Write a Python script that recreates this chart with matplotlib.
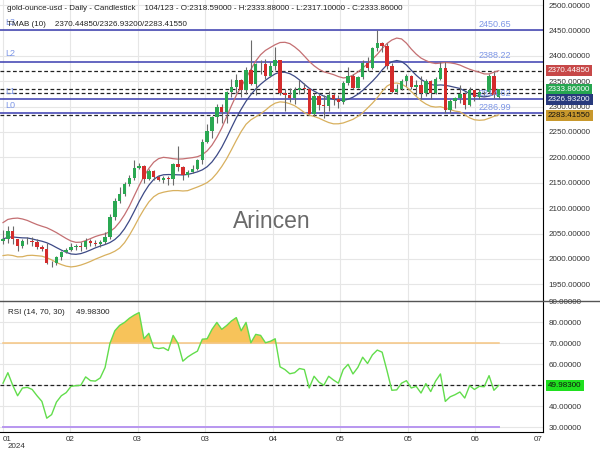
import numpy as np
import pandas as pd
import matplotlib.pyplot as plt
from matplotlib.lines import Line2D

plt.rcParams['font.family'] = ['Liberation Sans', 'DejaVu Sans']

# daily gold candles (31 Jan .. 24 Jun 2024)
opens = [2036, 2039, 2054, 2039, 2025, 2035, 2035, 2034, 2024, 2020,
         1992, 1992, 2004, 2013, 2018, 2024, 2025, 2024, 2036, 2031,
         2030, 2034, 2044, 2083, 2115, 2128, 2148, 2159, 2179, 2182,
         2158, 2174, 2162, 2156, 2160, 2157, 2186, 2181, 2165, 2172,
         2178, 2194, 2230, 2251, 2280, 2300, 2290, 2329, 2339, 2352,
         2333, 2373, 2344, 2383, 2383, 2361, 2379, 2391, 2327, 2322,
         2316, 2332, 2337, 2335, 2286, 2320, 2303, 2301, 2323, 2314,
         2309, 2346, 2360, 2336, 2358, 2386, 2376, 2415, 2425, 2420,
         2379, 2329, 2334, 2350, 2361, 2338, 2342, 2327, 2350, 2327,
         2355, 2376, 2294, 2311, 2316, 2324, 2303, 2333, 2319, 2329,
         2328, 2360, 2318.59]
highs = [2056, 2065, 2065, 2040, 2040, 2043, 2044, 2040, 2028, 2032,
         1996, 2006, 2016, 2022, 2032, 2030, 2034, 2041, 2040, 2037,
         2037, 2052, 2088, 2119, 2141, 2152, 2165, 2195, 2189, 2184,
         2177, 2175, 2166, 2163, 2163, 2189, 2222, 2183, 2176, 2184,
         2196, 2236, 2265, 2281, 2305, 2305, 2330, 2354, 2365, 2354,
         2378, 2431, 2385, 2392, 2393, 2387, 2417, 2392, 2334, 2336,
         2338, 2353, 2347, 2336, 2326, 2325, 2323, 2331, 2327, 2323,
         2351, 2378, 2364, 2360, 2392, 2397, 2418, 2450, 2427, 2426,
         2385, 2344, 2355, 2364, 2363, 2352, 2360, 2354, 2353, 2359,
         2388, 2387, 2315, 2318, 2343, 2328, 2338, 2333, 2334, 2331,
         2365, 2368, 2333.88]
lows = [2030, 2031, 2030, 2015, 2022, 2029, 2025, 2020, 2016, 1990,
        1984, 1988, 1998, 2012, 2015, 2018, 2015, 2020, 2026, 2025,
        2024, 2029, 2039, 2077, 2111, 2124, 2143, 2155, 2177, 2150,
        2156, 2155, 2154, 2150, 2146, 2146, 2174, 2156, 2162, 2170,
        2175, 2186, 2228, 2238, 2268, 2267, 2267, 2319, 2326, 2319,
        2325, 2343, 2323, 2364, 2354, 2358, 2373, 2322, 2291, 2310,
        2306, 2325, 2326, 2285, 2282, 2293, 2277, 2292, 2304, 2298,
        2305, 2343, 2334, 2336, 2355, 2370, 2374, 2410, 2407, 2374,
        2326, 2325, 2332, 2341, 2334, 2322, 2315, 2320, 2315, 2325,
        2353, 2287, 2288, 2297, 2308, 2296, 2301, 2311, 2314, 2321,
        2326, 2316, 2317.10]
closes = [2039, 2054, 2039, 2025, 2035, 2035, 2034, 2024, 2020, 1992,
          1992, 2004, 2013, 2018, 2024, 2025, 2024, 2036, 2031, 2030,
          2034, 2044, 2083, 2115, 2128, 2148, 2159, 2179, 2182, 2158,
          2174, 2162, 2156, 2160, 2157, 2186, 2181, 2165, 2172, 2178,
          2194, 2230, 2251, 2280, 2300, 2290, 2329, 2339, 2352, 2333,
          2373, 2344, 2383, 2383, 2361, 2379, 2391, 2327, 2322, 2316,
          2332, 2337, 2335, 2286, 2320, 2303, 2301, 2323, 2314, 2309,
          2346, 2360, 2336, 2358, 2386, 2376, 2415, 2425, 2420, 2379,
          2329, 2334, 2350, 2361, 2338, 2342, 2327, 2350, 2327, 2355,
          2376, 2294, 2311, 2316, 2324, 2303, 2333, 2319, 2329, 2328,
          2360, 2322, 2333.86]

# RSI(14)
rsi = [51, 56, 50, 45, 48.7, 49, 48, 45, 42.3, 34.3,
       36, 42, 45, 46.5, 49.5, 49.8, 50, 54, 52.2, 52,
       53.5, 58.5, 70, 76, 78.6, 80, 82, 83.5, 84.7, 72.2,
       74.8, 68, 67.5, 67.9, 66.6, 73.8, 70, 61.5, 63.5, 65,
       66.3, 72, 72.2, 76.7, 80, 76.7, 78.5, 80.7, 82.3, 76,
       80, 70.3, 74.3, 73.8, 70.3, 71, 72.2, 58.8, 57.5, 55.5,
       56, 58, 57.5, 48.7, 54.3, 51.5, 50, 54.3, 52.5, 51,
       57.5, 60, 55.4, 58.5, 63.4, 60.4, 64.5, 66.8, 65.8, 57,
       47.6, 47.8, 51, 52.2, 48.7, 49.5, 46.3, 50.8, 47, 52,
       55.4, 42.3, 44.5, 45.5, 46.8, 43.9, 49.8, 48, 49.5, 49.3,
       54.6, 47.6, 49.983]

level_names = ['L0', 'L1', 'L2', 'L3']
level_values = [2286.99, 2314.62, 2388.22, 2450.65]
tmab_last = [2370.44850, 2326.93200, 2283.41550]
last_close = 2333.86
month_labels = ['01', '02', '03', '03', '04', '05', '05', '06', '07']

o = np.array(opens); h = np.array(highs); l = np.array(lows); c = np.array(closes)
x = np.arange(len(c))

# TMA bands (10)
cs = pd.Series(c)
mid = cs.rolling(6, min_periods=1).mean().rolling(5, min_periods=1).mean()
prev = cs.shift(1).fillna(cs.iloc[0])
tr = np.maximum(h - l, np.maximum((h - prev).abs(), (l - prev).abs()))
atr = pd.Series(tr).rolling(12, min_periods=1).mean().rolling(3, min_periods=1).mean()
k = (tmab_last[0] - tmab_last[1]) / atr.iloc[-1]
upper = mid + k * atr
lower = mid - k * atr

fig = plt.figure(figsize=(6, 4.5), dpi=100)
ax = fig.add_axes([0, 1 - 300 / 450, 543 / 600, 300 / 450])
ax2 = fig.add_axes([0, 1 - 432 / 450, 543 / 600, 132 / 450], sharex=ax)

grid_c = '#e6e6e6'
ticks_x = np.arange(9) * 13.9 - 0.1
for a in (ax, ax2):
    a.set_xlim(-0.62, 111.1)
    for t in ticks_x:
        a.axvline(t, color=grid_c, lw=0.8, zorder=0)
    a.yaxis.tick_right()
    a.tick_params(axis='y', length=0, pad=4, labelsize=5.8, labelcolor='#333333')
    a.spines['left'].set_visible(False)
    a.spines['right'].set_color('black')

# price panel
ax.set_ylim(1919, 2510)
price_ticks = np.arange(1950, 2501, 50)
ax.set_yticks(price_ticks)
ax.set_yticklabels([f'{v:.5f}' for v in price_ticks])
for v in price_ticks:
    ax.axhline(v, color=grid_c, lw=0.8, zorder=0)
ax.spines['top'].set_visible(False)
ax.spines['bottom'].set_visible(False)
ax.tick_params(axis='x', bottom=False, labelbottom=False)

ax.text(0.5, 1 - 222 / 300, 'Arincen', transform=ax.transAxes, ha='center',
        va='center', fontsize=16.5, color='#6a6a6a', zorder=1)

for v in tmab_last + [last_close]:
    ax.axhline(v, color='#222222', lw=0.9, ls=(0, (3, 2)), zorder=1)
for name, v in zip(level_names, level_values):
    ax.axhline(v, color='#3a3db0', lw=1.1, zorder=1)
    ax.annotate(name, xy=(0, v), xycoords=('axes fraction', 'data'), xytext=(5, 8),
                textcoords='offset pixels', fontsize=6.5, color='#7d96e6', va='center')
    ax.annotate(f'{v:.2f}', xy=(479 / 543, v), xycoords=('axes fraction', 'data'),
                xytext=(0, 6), textcoords='offset pixels', fontsize=6.5,
                color='#7d96e6', va='center', ha='left', zorder=5)

ax.plot(x, upper, color='#c46f72', lw=0.9, zorder=2)
ax.plot(x, mid, color='#3d4a86', lw=0.9, zorder=2)
ax.plot(x, lower, color='#d8b05e', lw=0.9, zorder=2)

up = c >= o
colors = np.where(up, '#2aa852', '#d42c2c')
ax.vlines(x, l, h, color='#6a6a6a', lw=0.8, zorder=3)
ax.bar(x, np.maximum(np.abs(c - o), 0.8), bottom=np.minimum(o, c), width=0.7,
       color=colors, linewidth=0, zorder=4)

# value tags on the price scale
tags = [(tmab_last[0], 0, '#c74848', 'white'),
        (last_close, 0, '#26a650', 'white'),
        (tmab_last[1], -7, '#283a7c', 'white'),
        (tmab_last[2], 0, '#c8982c', '#111111')]
for v, dy, bg, fg in tags:
    ax.annotate(f'{v:.5f}', xy=(1, v), xycoords=('axes fraction', 'data'),
                xytext=(5, dy), textcoords='offset pixels', fontsize=5.8, color=fg,
                va='center', ha='left', annotation_clip=False, zorder=10,
                bbox=dict(boxstyle='square,pad=0.25', fc=bg, ec='none'))

# RSI panel
ax2.set_ylim(27.7, 90.7)
rsi_ticks = np.arange(30, 91, 10)
ax2.set_yticks(rsi_ticks)
ax2.set_yticklabels([f'{v:.5f}' for v in rsi_ticks])
for v in rsi_ticks:
    ax2.axhline(v, color=grid_c, lw=0.8, zorder=0)
r = np.array(rsi)
ax2.plot(x, np.full(len(x), 70), color='#f6c682', lw=1.1, zorder=2)
ax2.plot(x, np.full(len(x), 30), color='#b896f0', lw=1.4, zorder=2)
ax2.axhline(50, color='#222222', lw=0.9, ls=(0, (3, 2)), zorder=2)
ax2.fill_between(x, 70, r, where=r > 70, interpolate=True, color='#f7c35a', lw=0, zorder=1)
ax2.plot(x, r, color='#62dd4c', lw=1.0, zorder=3)
ax2.annotate(f'{rsi[-1]:.5f}', xy=(1, rsi[-1]), xycoords=('axes fraction', 'data'),
             xytext=(5, 0), textcoords='offset pixels', fontsize=5.8, color='#111111',
             va='center', ha='left', annotation_clip=False, zorder=10,
             bbox=dict(boxstyle='square,pad=0.25', fc='#1fe01f', ec='none'))
ax2.spines['top'].set_visible(False)
ax2.spines['bottom'].set_color('black')
ax2.set_xticks(ticks_x)
ax2.set_xticklabels(month_labels)
ax2.tick_params(axis='x', length=0, pad=3, labelsize=5.8, labelcolor='#333333')
lbls = ax2.get_xticklabels()
lbls[0].set_ha('left')
lbls[-1].set_ha('right')

fig.add_artist(Line2D([0, 1], [1 - 300.5 / 450] * 2, color='#555555', lw=1))

fig.text(7 / 600, 1 - 9 / 450, 'gold-ounce-usd - Daily - Candlestick    104/123 - O:2318.59000 - '
         'H:2333.88000 - L:2317.10000 - C:2333.86000', fontsize=5.8, color='#222222', va='center')
fig.text(7 / 600, 1 - 25 / 450, 'TMAB (10)    2370.44850/2326.93200/2283.41550',
         fontsize=5.8, color='#222222', va='center')
fig.text(8 / 600, 1 - 312 / 450, 'RSI (14, 70, 30)     49.98300', fontsize=5.8,
         color='#222222', va='center')
fig.text(8 / 600, 1 - 447 / 450, '2024', fontsize=5.8, color='#333333', va='center')

fig.savefig('out.png', dpi=100)
